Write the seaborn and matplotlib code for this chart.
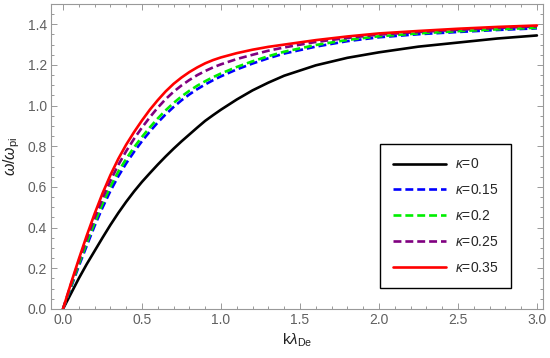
import numpy as np
import pandas as pd
import seaborn as sns
import matplotlib.pyplot as plt
from matplotlib.ticker import MultipleLocator

# values
k = [0, 0.05, 0.1, 0.15, 0.2, 0.25, 0.3, 0.35, 0.4, 0.45, 0.5, 0.55, 0.6, 0.65, 0.7,
     0.75, 0.8, 0.85, 0.9, 0.95, 1.0, 1.1, 1.2, 1.3, 1.4, 1.6, 1.8, 2.0, 2.25, 2.5,
     2.75, 3.0]
w_k0 = [0, 0.075, 0.15, 0.22, 0.285, 0.35, 0.413, 0.472, 0.527, 0.578, 0.625, 0.668, 0.71,
        0.75, 0.788, 0.824, 0.858, 0.892, 0.925, 0.953, 0.98, 1.03, 1.075, 1.113, 1.147,
        1.198, 1.235, 1.262, 1.29, 1.31, 1.33, 1.345]
w_k015 = [0, 0.105, 0.21, 0.31, 0.408, 0.498, 0.58, 0.652, 0.716, 0.773, 0.825, 0.873,
          0.917, 0.957, 0.993, 1.026, 1.055, 1.081, 1.104, 1.125, 1.144, 1.178, 1.207,
          1.233, 1.256, 1.29, 1.317, 1.336, 1.351, 1.362, 1.372, 1.38]
w_k02 = [0, 0.11, 0.22, 0.325, 0.424, 0.517, 0.602, 0.675, 0.738, 0.795, 0.846, 0.893,
         0.937, 0.977, 1.013, 1.045, 1.073, 1.098, 1.12, 1.14, 1.158, 1.19, 1.218, 1.243,
         1.265, 1.298, 1.323, 1.341, 1.355, 1.366, 1.375, 1.383]
w_k025 = [0, 0.12, 0.235, 0.345, 0.447, 0.543, 0.63, 0.708, 0.776, 0.837, 0.892, 0.943,
          0.99, 1.032, 1.068, 1.099, 1.126, 1.15, 1.17, 1.188, 1.203, 1.229, 1.25, 1.27,
          1.286, 1.313, 1.333, 1.349, 1.362, 1.373, 1.382, 1.39]
w_k035 = [0, 0.125, 0.245, 0.36, 0.468, 0.568, 0.658, 0.738, 0.808, 0.87, 0.927, 0.98,
          1.027, 1.07, 1.107, 1.138, 1.165, 1.188, 1.208, 1.224, 1.237, 1.258, 1.275,
          1.289, 1.30, 1.322, 1.34, 1.355, 1.367, 1.378, 1.387, 1.394]

labels = [r"$\kappa$=0", r"$\kappa$=0.15", r"$\kappa$=0.2", r"$\kappa$=0.25", r"$\kappa$=0.35"]
series = [w_k0, w_k015, w_k02, w_k025, w_k035]
colors = ["black", "#0000ff", "#00ee00", "#800080", "#ff0000"]

df = pd.concat([pd.DataFrame({"k": k, "w": s, "kappa": lab}) for s, lab in zip(series, labels)])

sns.set_style("ticks")
plt.rcParams["font.family"] = ["Liberation Sans", "DejaVu Sans"]
plt.rcParams["mathtext.fontset"] = "custom"
plt.rcParams["mathtext.rm"] = "Liberation Sans"
plt.rcParams["mathtext.it"] = "Liberation Sans:italic"

fig = plt.figure(figsize=(5.5, 3.58), dpi=100)
ax = fig.add_axes([0.0927, 0.137, 0.895, 0.852])

dash = (3, 1.5)
sns.lineplot(data=df, x="k", y="w", hue="kappa", style="kappa",
             hue_order=labels, style_order=labels,
             palette=dict(zip(labels, colors)),
             dashes={labels[0]: "", labels[1]: dash, labels[2]: dash,
                     labels[3]: dash, labels[4]: ""},
             linewidth=1.9, ax=ax, legend=True)

ax.set_xlim(-0.076, 3.04)
ax.set_ylim(0, 1.5)
ax.xaxis.set_minor_locator(MultipleLocator(0.1))
ax.yaxis.set_minor_locator(MultipleLocator(0.05))
ax.set_xticks([0, 0.5, 1.0, 1.5, 2.0, 2.5, 3.0])
ax.set_yticks([0, 0.2, 0.4, 0.6, 0.8, 1.0, 1.2, 1.4])
ax.set_xticklabels(["0.0", "0.5", "1.0", "1.5", "2.0", "2.5", "3.0"])
ax.set_yticklabels(["0.0", "0.2", "0.4", "0.6", "0.8", "1.0", "1.2", "1.4"])
ax.tick_params(which="both", direction="in", top=True, right=True,
               colors="#999999", labelcolor="#606060", labelsize=10, width=0.7, pad=3)
ax.tick_params(which="major", length=4)
ax.tick_params(which="minor", length=2.2)
for sp in ax.spines.values():
    sp.set_color("#999999")
    sp.set_linewidth(0.8)

ax.set_xlabel(r"k$\lambda_{\rm De}$", fontsize=11, color="#222222", labelpad=3)
ax.set_ylabel(r"$\omega/\omega_{\rm pi}$", fontsize=11.5, color="#222222", labelpad=4)

handles, _ = ax.get_legend_handles_labels()
leg = ax.legend(handles, labels, loc="lower right", bbox_to_anchor=(0.935, 0.069),
                fancybox=False, edgecolor="black", framealpha=1, fontsize=10,
                handlelength=3.8, handletextpad=0.65, labelspacing=0.85,
                borderpad=0.95, borderaxespad=0)
leg.get_frame().set_linewidth(1.0)

fig.savefig("out.png", dpi=100)
